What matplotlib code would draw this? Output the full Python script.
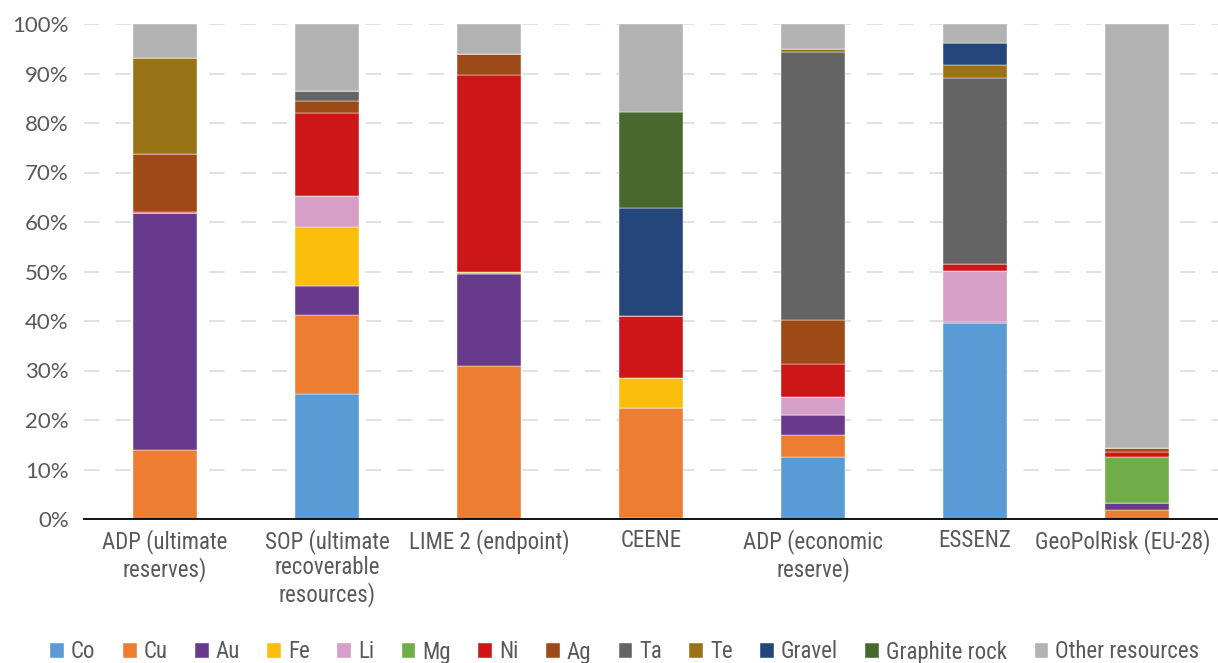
import matplotlib
matplotlib.use("Agg")
import matplotlib.pyplot as plt
import matplotlib.transforms as mtransforms
from matplotlib import font_manager
import numpy as np

# Share of each resource in the characterised depletion impact (%)
methods = ["ADP (ultimate\nreserves)", "SOP (ultimate\nrecoverable\nresources)",
           "LIME 2 (endpoint)", "CEENE", "ADP (economic\nreserve)", "ESSENZ",
           "GeoPolRisk (EU-28)"]
resources = ["Co", "Cu", "Au", "Fe", "Li", "Mg", "Ni", "Ag", "Ta", "Te",
             "Gravel", "Graphite rock", "Other resources"]

co = [0.0, 25.2, 0.0, 0.3, 12.6, 39.6, 0.0]
cu = [14.0, 16.1, 30.9, 22.1, 4.4, 0.0, 1.8]
au = [47.8, 5.8, 18.5, 0.0, 4.1, 0.2, 1.4]
fe = [0.0, 11.8, 0.4, 6.1, 0.0, 0.0, 0.0]
li = [0.0, 6.4, 0.0, 0.0, 3.6, 10.3, 0.0]
mg = [0.0, 0.0, 0.0, 0.0, 0.0, 0.0, 9.4]
ni = [0.3, 16.8, 39.8, 12.5, 6.7, 1.4, 1.0]
ag = [11.6, 2.4, 4.4, 0.0, 8.9, 0.0, 0.7]
ta = [0.0, 2.0, 0.0, 0.0, 54.0, 37.5, 0.0]
te = [19.5, 0.0, 0.0, 0.0, 0.6, 2.7, 0.0]
gravel = [0.0, 0.0, 0.0, 21.9, 0.0, 4.4, 0.0]
graphite = [0.0, 0.0, 0.0, 19.3, 0.0, 0.0, 0.0]
other = [6.8, 13.5, 6.0, 17.8, 5.1, 3.9, 85.7]

series = [co, cu, au, fe, li, mg, ni, ag, ta, te, gravel, graphite, other]
colors = ["#5B9BD5", "#ED7D31", "#673A8C", "#FBBF0B", "#D59FC8", "#70AD47",
          "#CC1618", "#9E4A16", "#646464", "#987315", "#24467A", "#47692E",
          "#B2B2B2"]

# Pick a narrow face for the labels if one is installed
fonts = font_manager.fontManager.ttflist
names = {f.name for f in fonts}
cond_props = None
for fam in ["Liberation Sans Narrow", "Roboto Condensed", "Open Sans Condensed",
            "Noto Sans Condensed", "DejaVu Sans Condensed"]:
    if fam in names:
        cond_props = dict(family=fam, stretch="normal")
        break
if cond_props is None:
    for f in fonts:
        if str(f.stretch) in ("condensed", "semi-condensed", "extra-condensed") \
                and f.style == "normal" and f.weight in (400, "normal", "regular"):
            cond_props = dict(family=f.name, stretch=f.stretch)
            break
if cond_props is None:
    cond_props = dict(family="Roboto", stretch="normal")
    label_size = 14
else:
    label_size = 16.5

tick_font = "Lato" if "Lato" in names else "DejaVu Sans"
text_color = "#595959"

fig = plt.figure(figsize=(12.18, 6.63), dpi=100)
ax = fig.add_axes([84 / 1218, 144 / 663, 1134 / 1218, 495 / 663])

x = np.arange(len(methods))
bottom = np.zeros(len(methods))
handles = []
for name, vals, col in zip(resources, series, colors):
    vals = np.array(vals, dtype=float)
    h = ax.bar(x, vals, width=0.4, bottom=bottom, color=col, label=name,
               edgecolor="white", linewidth=0.3, zorder=3)
    handles.append(h)
    bottom += vals

ax.set_xlim(-0.5, len(methods) - 0.5)
ax.set_ylim(0, 100)
ax.set_yticks(np.arange(0, 101, 10))
ax.set_yticklabels([f"{v}%" for v in range(0, 101, 10)],
                   fontfamily=tick_font, fontsize=16, color=text_color)
ax.tick_params(axis="y", length=0, pad=11)
ax.set_xticks(x)
xlabels = ax.set_xticklabels(methods, fontfamily=cond_props["family"],
                             fontstretch=cond_props["stretch"], fontsize=label_size,
                             color=text_color, linespacing=1.15)
ax.tick_params(axis="x", length=0, pad=7)

# keep the last category label inside the figure edge
last = xlabels[-1]
last.set_transform(last.get_transform() +
                   mtransforms.ScaledTranslation(-14 / 100, 0, fig.dpi_scale_trans))

ax.yaxis.grid(True, color="#D9D9D9", linewidth=1.1, linestyle=(0, (10, 10.5)), zorder=0)
ax.set_axisbelow(True)
for side in ["top", "right", "left"]:
    ax.spines[side].set_visible(False)
ax.spines["bottom"].set_color("black")
ax.spines["bottom"].set_linewidth(1.3)
ax.spines["bottom"].set_zorder(4)

leg_prop = font_manager.FontProperties(family=cond_props["family"],
                                       stretch=cond_props["stretch"],
                                       size=label_size)
leg = fig.legend(handles=handles, labels=resources, loc="center",
                 bbox_to_anchor=(0.513, 11 / 663), ncol=len(resources),
                 frameon=False, handlelength=0.6, handleheight=0.6,
                 handletextpad=0.3, columnspacing=1.2 if label_size > 15 else 0.85,
                 prop=leg_prop)
for t in leg.get_texts():
    t.set_color(text_color)

fig.savefig("out.png", dpi=100)
